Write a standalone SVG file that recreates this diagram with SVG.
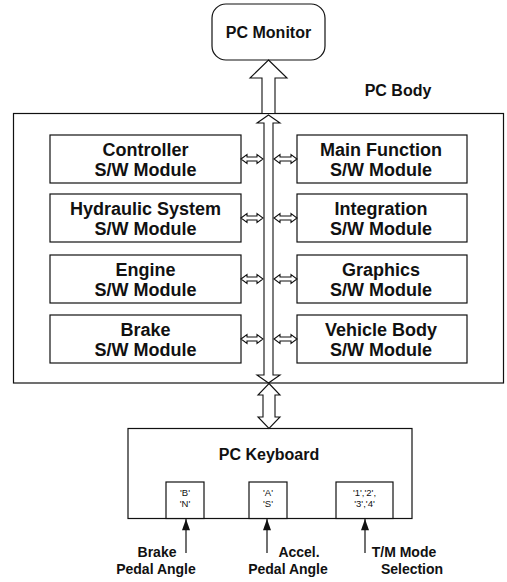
<svg xmlns="http://www.w3.org/2000/svg" width="507" height="582" viewBox="0 0 507 582">
<defs>
<style>
.box{fill:#fff;stroke:#111;stroke-width:1.2}
.hollow{fill:#fff;stroke:#111;stroke-width:1.1;stroke-linejoin:miter}
.t{font-family:"Liberation Sans",Arial,sans-serif;font-weight:bold;fill:#111;text-anchor:middle}
.m{font-size:18px}
.l{font-size:16px}
.s{font-size:14px}
.k{font-family:"Liberation Sans",Arial,sans-serif;font-size:9.5px;fill:#111;text-anchor:middle}
.in{stroke:#111;stroke-width:1.2;fill:none}
</style>
<marker id="solid" viewBox="0 0 14 10" refX="14" refY="5" markerWidth="13" markerHeight="8" markerUnits="userSpaceOnUse" orient="auto">
<path d="M0,0 L14,5 L0,10 z" fill="#111"/>
</marker>
</defs>
<rect width="507" height="582" fill="#fff"/>

<g id="pc-monitor">
<rect class="box" x="212" y="4" width="113" height="56" rx="14" ry="14"/>
<text class="t l" x="268.5" y="38">PC Monitor</text>
</g>

<g id="pc-body">
<rect class="box" x="13.5" y="113.5" width="490" height="269.5"/>
<text class="t l" x="398" y="96">PC Body</text>
</g>

<g id="controller">
<rect class="box" x="50" y="135" width="191" height="48"/>
<text class="t m" x="145.5" y="155.5">Controller</text>
<text class="t m" x="145.5" y="175.5">S/W Module</text>
</g>
<g id="hydraulic">
<rect class="box" x="50" y="194" width="191" height="48"/>
<text class="t m" x="145.5" y="214.5">Hydraulic System</text>
<text class="t m" x="145.5" y="234.5">S/W Module</text>
</g>
<g id="engine">
<rect class="box" x="50" y="255" width="191" height="48"/>
<text class="t m" x="145.5" y="275.5">Engine</text>
<text class="t m" x="145.5" y="295.5">S/W Module</text>
</g>
<g id="brake">
<rect class="box" x="50" y="315" width="191" height="48"/>
<text class="t m" x="145.5" y="335.5">Brake</text>
<text class="t m" x="145.5" y="355.5">S/W Module</text>
</g>

<g id="main-function">
<rect class="box" x="297" y="135" width="170" height="48"/>
<text class="t m" x="381" y="155.5">Main Function</text>
<text class="t m" x="381" y="175.5">S/W Module</text>
</g>
<g id="integration">
<rect class="box" x="297" y="194" width="170" height="48"/>
<text class="t m" x="381" y="214.5">Integration</text>
<text class="t m" x="381" y="234.5">S/W Module</text>
</g>
<g id="graphics">
<rect class="box" x="297" y="255" width="170" height="48"/>
<text class="t m" x="381" y="275.5">Graphics</text>
<text class="t m" x="381" y="295.5">S/W Module</text>
</g>
<g id="vehicle-body">
<rect class="box" x="297" y="315" width="170" height="48"/>
<text class="t m" x="381" y="335.5">Vehicle Body</text>
<text class="t m" x="381" y="355.5">S/W Module</text>
</g>

<g id="pc-keyboard">
<rect class="box" x="128" y="428.5" width="284" height="90"/>
<text class="t l" x="269" y="460">PC Keyboard</text>
<rect class="box" x="166" y="482" width="38" height="36.5"/>
<text class="k" x="185" y="496">'B'</text>
<text class="k" x="185" y="507">'N'</text>
<rect class="box" x="249" y="482" width="38" height="36.5"/>
<text class="k" x="268" y="496">'A'</text>
<text class="k" x="268" y="507">'S'</text>
<rect class="box" x="336" y="482" width="57" height="36.5"/>
<text class="k" x="364.5" y="496">'1','2',</text>
<text class="k" x="364.5" y="507">'3','4'</text>
</g>

<g id="connectors">
<!-- body to monitor -->
<polygon class="hollow" points="268.5,60 287,78 275,78 275,113.5 262,113.5 262,78 250,78"/>
<!-- internal bus -->
<polygon class="hollow" points="268.5,115 280,123 273,123 273,375 280,375 268.5,383 257,375 264,375 264,123 257,123"/>
<!-- body to keyboard -->
<polygon class="hollow" points="269,383.5 280,395 275,395 275,417 280,417 269,428.5 258,417 263,417 263,395 258,395"/>
<!-- module links left -->
<polygon class="hollow" points="241,159 247,154.5 247,157 257,157 257,154.5 263,159 257,163.5 257,161 247,161 247,163.5"/>
<polygon class="hollow" points="241,218 247,213.5 247,216 257,216 257,213.5 263,218 257,222.5 257,220 247,220 247,222.5"/>
<polygon class="hollow" points="241,279 247,274.5 247,277 257,277 257,274.5 263,279 257,283.5 257,281 247,281 247,283.5"/>
<polygon class="hollow" points="241,339 247,334.5 247,337 257,337 257,334.5 263,339 257,343.5 257,341 247,341 247,343.5"/>
<!-- module links right -->
<polygon class="hollow" points="274,159 280,154.5 280,157 291,157 291,154.5 297,159 291,163.5 291,161 280,161 280,163.5"/>
<polygon class="hollow" points="274,218 280,213.5 280,216 291,216 291,213.5 297,218 291,222.5 291,220 280,220 280,222.5"/>
<polygon class="hollow" points="274,279 280,274.5 280,277 291,277 291,274.5 297,279 291,283.5 291,281 280,281 280,283.5"/>
<polygon class="hollow" points="274,339 280,334.5 280,337 291,337 291,334.5 297,339 291,343.5 291,341 280,341 280,343.5"/>
<!-- input arrows -->
<line class="in" x1="186" y1="553" x2="186" y2="519" marker-end="url(#solid)"/>
<line class="in" x1="267" y1="553" x2="267" y2="519" marker-end="url(#solid)"/>
<line class="in" x1="365" y1="553" x2="365" y2="519" marker-end="url(#solid)"/>
</g>

<g id="labels">
<text class="t s" x="157" y="557">Brake</text>
<text class="t s" x="156" y="574">Pedal Angle</text>
<text class="t s" x="299" y="557">Accel.</text>
<text class="t s" x="288" y="574">Pedal Angle</text>
<text class="t s" x="404" y="557">T/M Mode</text>
<text class="t s" x="412" y="574">Selection</text>
</g>
</svg>
